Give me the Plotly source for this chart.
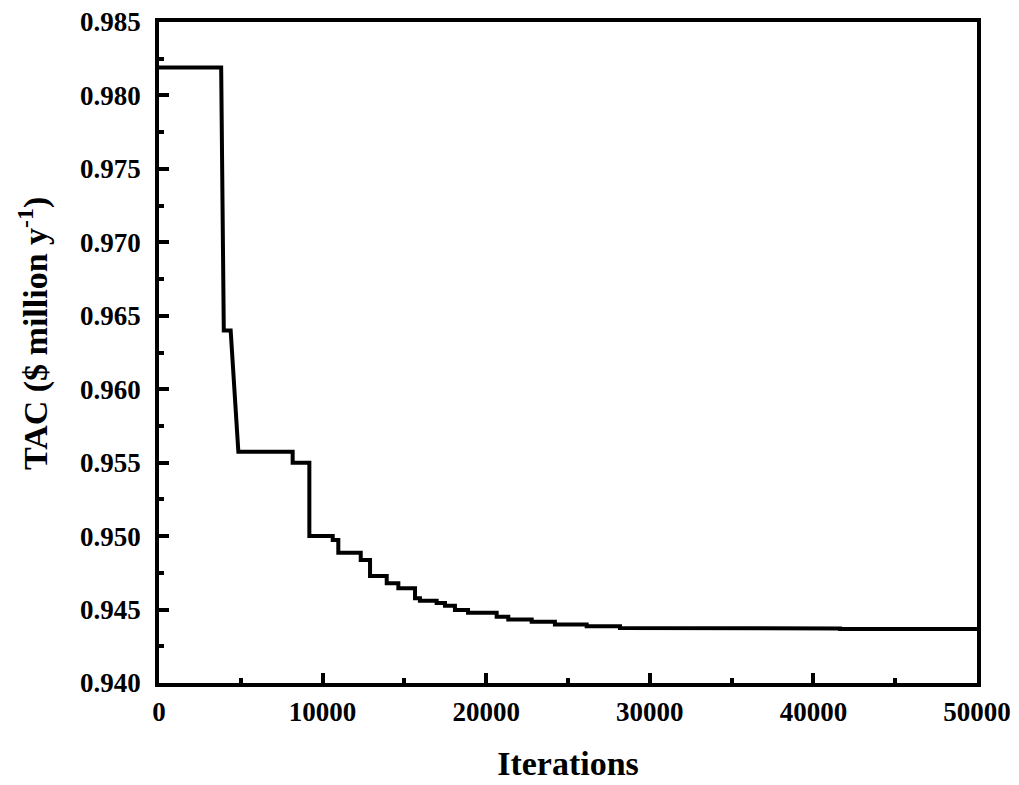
import plotly.graph_objects as go

# Best-so-far TAC vs iterations (step curve)
iterations = [0, 3800, 3960, 4380, 4850, 8170, 8170, 9190, 9190, 10620, 10620,
              10960, 10960, 12330, 12330, 12900, 12900, 13920, 13920, 14630, 14630,
              15650, 15650, 15950, 15950, 16970, 16970, 17480, 17480, 18090, 18090,
              18890, 18890, 20640, 20640, 21350, 21350, 22780, 22780, 24200, 24200,
              26140, 26140, 28180, 28180, 32640, 32640, 41630, 41630, 50000]
tac = [0.9819, 0.9819, 0.9640, 0.9640, 0.95575, 0.95575, 0.9550, 0.9550, 0.9500, 0.9500, 0.94973,
       0.94973, 0.94887, 0.94887, 0.94837, 0.94837, 0.94728, 0.94728, 0.94679, 0.94679, 0.94645,
       0.94645, 0.94577, 0.94577, 0.94560, 0.94560, 0.94545, 0.94545, 0.94526, 0.94526, 0.94497,
       0.94497, 0.94478, 0.94478, 0.94451, 0.94451, 0.94433, 0.94433, 0.94417, 0.94417, 0.94398,
       0.94398, 0.94386, 0.94386, 0.94375, 0.94375, 0.94371, 0.94371, 0.94367, 0.94367]

x_ticks = [0, 10000, 20000, 30000, 40000, 50000]
y_ticks = [0.940, 0.945, 0.950, 0.955, 0.960, 0.965, 0.970, 0.975, 0.980, 0.985]

FONT = "Liberation Serif"

fig = go.Figure()
fig.add_trace(go.Scatter(x=iterations, y=tac, mode="lines",
                         line=dict(color="black", width=4),
                         showlegend=False, hoverinfo="skip"))

axis_common = dict(
    showgrid=False, zeroline=False, showline=True, linecolor="black", linewidth=3.5,
    mirror=True, ticks="inside", ticklen=10, tickwidth=3.5, tickcolor="black",
    tickfont=dict(family=FONT, size=27, color="black", weight="bold"),
    ticklabeloverflow="allow",
)

fig.update_xaxes(
    range=[0, 50000], tickvals=x_ticks, ticktext=[str(v) for v in x_ticks],
    minor=dict(ticks="inside", ticklen=5, tickwidth=3.5, tickcolor="black", dtick=5000, tick0=0),
    title=dict(text="<b>Iterations</b>", font=dict(family=FONT, size=34, color="black"), standoff=26),
    ticklabelstandoff=2,
    **axis_common,
)
fig.update_yaxes(
    range=[0.940, 0.985], tickvals=y_ticks, ticktext=[f"{v:.3f}" for v in y_ticks],
    minor=dict(ticks="inside", ticklen=5, tickwidth=3.5, tickcolor="black", dtick=0.0025, tick0=0.940),
    ticklabelstandoff=9,
    **axis_common,
)
fig.add_annotation(
    text="<b>TAC ($ million y<sup>-1</sup>)</b>", textangle=-90,
    xref="paper", yref="paper", x=0, y=0.528, xanchor="center", yanchor="middle",
    xshift=-125, showarrow=False, font=dict(family=FONT, size=34, color="black"),
)
# The page has an 8px body margin, so the figure is 8px smaller and offsets reduced
fig.update_layout(
    width=1011, height=777,
    margin=dict(l=151, r=42, t=14, b=102, autoexpand=False),
    plot_bgcolor="white", paper_bgcolor="white",
    font=dict(family=FONT, color="black", weight="bold"),
)
fig.write_html("out.html")
